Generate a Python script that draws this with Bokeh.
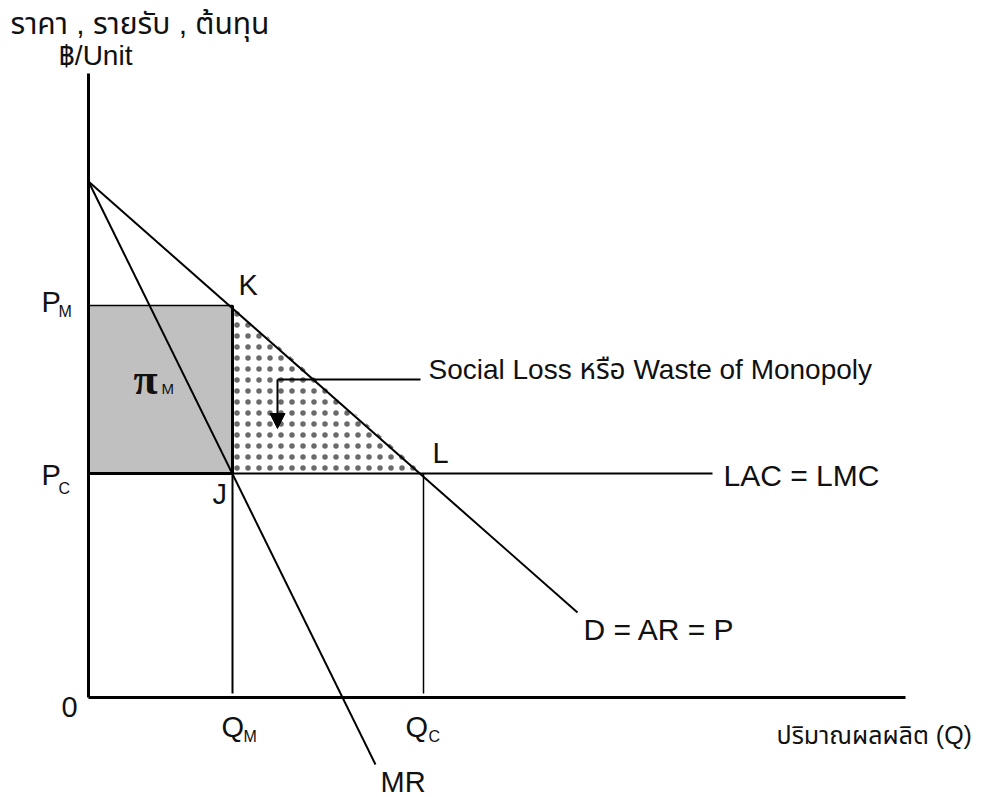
from bokeh.plotting import figure
from bokeh.models import Range1d, Arrow, NormalHead
from bokeh.core.properties import value
from bokeh.embed import file_html
from bokeh.resources import INLINE

# ---- data (Q = quantity, P = price) ----
P_intercept = 51.6
P_M = 39.2
P_C = 22.4
Q_M = 14.4
Q_C = 33.5
demand_q = [0.0, 48.9]
demand_p = [51.6, 8.5]
mr_q = [0.0, 28.7]
mr_p = [51.6, -6.7]
lac_q = [0.0, 62.4]
lac_p = [P_C, P_C]
y_axis_top = 62.4
x_axis_end = 81.7
leader_q = [18.9, 33.2]
leader_p = [31.8, 31.8]
arrow_tip_p = 26.9

FONT = "'Liberation Sans', 'Noto Sans Thai', 'Noto Sans', sans-serif"
SERIF = "'Liberation Serif', 'DejaVu Serif', serif"
TEXT_SHIFT = 0.95  # compensates the renderer's baseline offset

p = figure(width=1003, height=797, output_backend="svg", toolbar_location=None,
           x_range=Range1d(-8.8, 91.5), y_range=Range1d(-10.0, 69.7),
           min_border=0, outline_line_color=None)
p.axis.visible = False
p.grid.visible = False
p.background_fill_color = "white"

# monopoly profit rectangle
p.quad(left=[0], right=[Q_M], bottom=[P_C], top=[P_M], fill_color="#c0c0c0",
       line_color="black", line_width=1.7)

# deadweight loss triangle (hatched)
p.patch([Q_M, Q_C, Q_M], [P_M, P_C, P_C], fill_color="white", fill_alpha=0,
        line_color=None, hatch_pattern="dot", hatch_color="#6a6a6a",
        hatch_scale=11, hatch_weight=1.5)

# thick edges of rectangle
p.line([Q_M, Q_M], [P_C, P_M], line_color="black", line_width=3)
p.line([0, Q_M], [P_C, P_C], line_color="black", line_width=3)

# LAC = LMC
p.line(lac_q, lac_p, line_color="black", line_width=2)

# verticals
p.line([Q_M, Q_M], [0.4, P_C], line_color="black", line_width=2)
p.line([Q_C, Q_C], [0.4, P_C], line_color="black", line_width=1.5)

# demand and MR
p.line(demand_q, demand_p, line_color="black", line_width=2)
p.line(mr_q, mr_p, line_color="black", line_width=2)

# axes
p.line([0, 0], [0, y_axis_top], line_color="black", line_width=3)
p.line([0, x_axis_end], [0, 0], line_color="black", line_width=3)

# leader + arrow
p.line(leader_q, leader_p, line_color="black", line_width=2)
p.add_layout(Arrow(x_start=leader_q[0], y_start=leader_p[0], x_end=leader_q[0], y_end=arrow_tip_p,
                   line_width=2, line_color="black",
                   end=NormalHead(size=15, fill_color="black", line_color="black")))


def label(q, pp, txt, size=29, font=FONT, style="normal", align="left"):
    p.text(x=[q], y=[pp + TEXT_SHIFT], text=[txt], text_font=value(font), text_font_size=f"{size}px",
           text_font_style=style, text_align=align, text_baseline="alphabetic",
           text_color="#111111")


label(-7.8, 66.5, "ราคา , รายรับ , ต้นทุน", size=30)
label(-3.0, 63.3, "฿/Unit", size=28)
label(-4.7, 38.6, "P")
label(-3.0, 37.7, "M", size=16)
label(-4.7, 21.3, "P")
label(-3.0, 20.0, "C", size=16)
label(15.0, 40.3, "K")
label(4.5, 30.9, "π", size=44, font=SERIF, style="bold")
label(7.3, 30.0, "M", size=15)
label(34.4, 23.5, "L")
label(12.4, 19.4, "J")
label(-2.7, -1.9, "0")
label(13.3, -3.9, "Q")
label(15.5, -4.8, "M", size=16)
label(31.7, -3.9, "Q")
label(34.0, -4.8, "C", size=16)
label(29.2, -9.4, "MR")
label(49.5, 5.9, "D = AR = P", size=30)
label(63.5, 21.3, "LAC = LMC", size=30)
label(34.0, 31.9, "Social Loss หรือ Waste of Monopoly", size=28)
label(68.8, -4.7, "ปริมาณผลผลิต (Q)", size=25)

open("out.html", "w").write(file_html(p, INLINE))
